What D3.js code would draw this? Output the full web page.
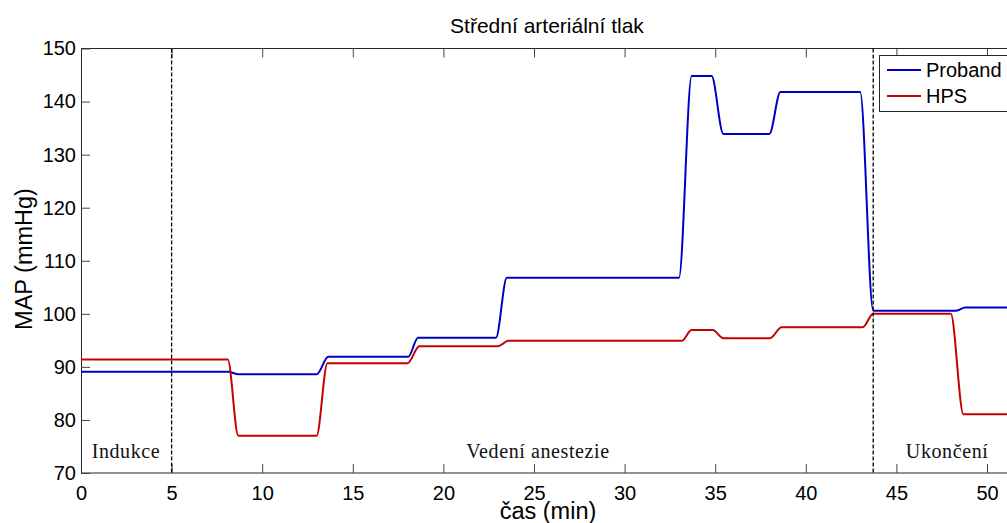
<!DOCTYPE html>
<html><head><meta charset="utf-8">
<script src="https://cdn.jsdelivr.net/npm/d3@7"></script>
<style>body{margin:0;background:#fff}svg{display:block}</style>
</head><body>
<script>
const title = "Střední arteriální tlak";
const xLabel = "čas (min)";
const yLabel = "MAP (mmHg)";
const xTicks = [0,5,10,15,20,25,30,35,40,45,50];
const yTicks = [70,80,90,100,110,120,130,140,150];
const seriesNames = ["Proband","HPS"];
const seriesColors = ["#0000c4","#c40000"];
// [time (min), MAP]
const proband = [[0,89.1],[8.1,89.1],[8.7,88.6],[13.0,88.6],[13.65,91.9],[18.06,91.9],[18.6,95.5],[22.9,95.5],[23.5,106.8],[33.0,106.8],[33.7,144.8],[34.8,144.8],[35.45,133.9],[37.99,133.9],[38.6,141.8],[43.0,141.8],[43.72,100.6],[48.3,100.6],[48.8,101.2],[56,101.2]];
const hps = [[0,91.4],[8.1,91.4],[8.68,77.0],[13.0,77.0],[13.6,90.7],[18.03,90.7],[18.67,93.9],[23.03,93.9],[23.58,94.9],[33.15,94.9],[33.7,96.95],[34.86,96.95],[35.45,95.4],[38.02,95.4],[38.67,97.45],[43.14,97.45],[43.72,100.0],[48.0,100.0],[48.7,81.06],[56,81.06]];
const phaseLines = [5, 43.72];
const phases = [["Indukce",2.48],["Vedení anestezie",25.22],["Ukončení",47.8]];

const W=1007,H=523;
const svg=d3.select("body").append("svg").attr("width",W).attr("height",H);
const x=d3.scaleLinear().domain([0,55]).range([81,81+55*18.12]);
const y=d3.scaleLinear().domain([70,150]).range([473,48.5]);
const font="'Liberation Sans', Arial, sans-serif";

// frame
svg.append("line").attr("x1",x(0)).attr("x2",x(55)).attr("y1",y(150)).attr("y2",y(150)).attr("stroke","#262626");

const xa=svg.append("g").attr("transform",`translate(0,${y(70)})`).call(d3.axisBottom(x).tickValues(xTicks).tickSizeInner(-9).tickSizeOuter(0).tickPadding(9));
const xt=svg.append("g").attr("transform",`translate(0,${y(150)})`).call(d3.axisTop(x).tickValues(xTicks).tickSizeInner(-9).tickSizeOuter(0).tickFormat(""));
const ya=svg.append("g").attr("transform",`translate(${x(0)},0)`).call(d3.axisLeft(y).tickValues(yTicks).tickSizeInner(-9).tickSizeOuter(0).tickPadding(5));
[xa,xt,ya].forEach(g=>{
  g.select(".domain").attr("stroke","#262626");
  g.selectAll(".tick line").attr("stroke","#444");
  g.selectAll("text").attr("font-family",font).attr("font-size",20).attr("fill","#000");
});
xa.select(".domain").attr("d",`M${x(0)},0H${x(55)}`);
xt.select(".domain").attr("d",`M${x(0)},0H${x(55)}`);
xa.selectAll(".tick text").attr("dy","0.9em");

// lines
const line=d3.line().x(d=>x(d[0])).y(d=>y(d[1])).curve(d3.curveMonotoneX);
svg.append("clipPath").attr("id","c").append("rect").attr("x",x(0)).attr("y",y(150)).attr("width",x(55)-x(0)).attr("height",y(70)-y(150));
[proband,hps].forEach((s,i)=>{
  svg.append("path").attr("d",line(s)).attr("fill","none").attr("stroke",seriesColors[i]).attr("stroke-width",2).attr("clip-path","url(#c)");
});

// phase lines
phaseLines.forEach(t=>{
  svg.append("line").attr("x1",x(t)).attr("x2",x(t)).attr("y1",y(150)).attr("y2",y(70)).attr("stroke","#000").attr("stroke-width",1.3).attr("stroke-dasharray","4,2");
});
phases.forEach(p=>{
  svg.append("text").attr("x",x(p[1])).attr("y",458).attr("text-anchor","middle").attr("font-family","'Liberation Serif', serif").attr("font-size",20).attr("letter-spacing",0.6).attr("fill","#111").text(p[0]);
});

// legend
const lg=svg.append("g");
lg.append("rect").attr("x",879.5).attr("y",55.5).attr("width",200).attr("height",56).attr("fill","#fff").attr("stroke","#262626");
seriesNames.forEach((n,i)=>{
  const yy=70+i*26;
  lg.append("line").attr("x1",887).attr("x2",921).attr("y1",yy).attr("y2",yy).attr("stroke",seriesColors[i]).attr("stroke-width",2);
  lg.append("text").attr("x",926).attr("y",yy+7).attr("font-family",font).attr("font-size",20).attr("fill","#000").text(n);
});

// titles
svg.append("text").attr("x",547).attr("y",33).attr("text-anchor","middle").attr("font-family",font).attr("font-size",21).text(title);
svg.append("text").attr("x",548).attr("y",519).attr("text-anchor","middle").attr("font-family",font).attr("font-size",23.5).text(xLabel);
svg.append("text").attr("transform","translate(32,259) rotate(-90)").attr("text-anchor","middle").attr("font-family",font).attr("font-size",23.5).text(yLabel);
</script>
</body></html>
